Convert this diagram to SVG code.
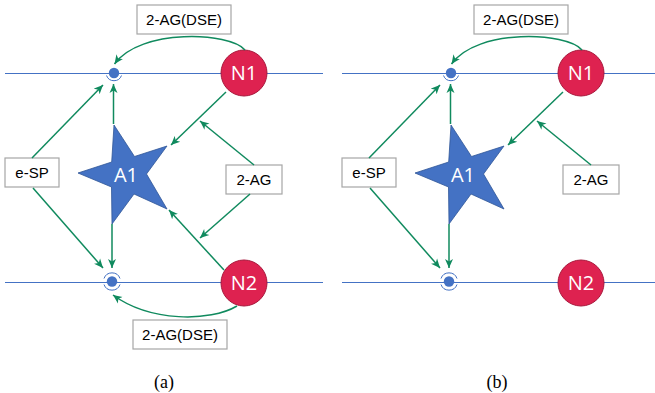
<svg xmlns="http://www.w3.org/2000/svg" width="655" height="393" viewBox="0 0 655 393">
<style>
.axon{stroke:#4472C4;stroke-width:1;fill:none}
.dot{fill:#4472C4}
.arc{stroke:#4472C4;stroke-width:1;fill:none}
.nc{fill:#DE2250;stroke:#A8183C;stroke-width:1}
.ntx{font-family:"Open Sans","Liberation Sans",sans-serif;font-size:20px;fill:#fff;text-anchor:middle}
.star{fill:#4472C4;stroke:#2F5597;stroke-width:0.8}
.box{fill:#fff;stroke:#A6A6A6;stroke-width:1.2}
.btx{font-family:"Liberation Sans",Arial,sans-serif;font-size:15px;fill:#000;text-anchor:middle}
.cap{font-family:"Liberation Serif","Times New Roman",serif;font-size:18px;fill:#000;text-anchor:middle}
.con{stroke:#108A5E;stroke-width:1.5;fill:none;marker-end:url(#ah)}
</style>
<defs>
<marker id="ah" markerUnits="userSpaceOnUse" markerWidth="10" markerHeight="10" viewBox="0 0 10 10" refX="9" refY="5" orient="auto">
<path d="M0,1 L9,5 L0,9 L2.5,5 Z" fill="#108A5E"/>
</marker>
<polygon id="starShape" points="114,125 134.5,156.5 167,146 146.5,174 167,209 134,194 112,224 111.5,187 78,173 111.7,162"/>
</defs>

<!-- Panel (a) -->
<g id="a-axons">
<line class="axon" x1="5" y1="73.5" x2="323" y2="73.5"/>
<line class="axon" x1="5" y1="282.5" x2="323" y2="282.5"/>
</g>
<g id="a-syn-top">
<circle class="dot" cx="114" cy="73" r="5.2"/>
<path class="arc" d="M106.5,75.5 A8,8 0 0 0 121.5,75.5"/>
</g>
<g id="a-syn-bottom">
<circle class="dot" cx="112" cy="281.5" r="5.2"/>
<path class="arc" d="M104,278.5 A8.5,8.5 0 0 1 120,278.5"/>
<path class="arc" d="M104,284.5 A8.5,8.5 0 0 0 120,284.5"/>
</g>
<g id="a-A1">
<use href="#starShape" class="star"/>
<text class="ntx" x="126" y="182">A1</text>
</g>
<g id="a-N1">
<circle class="nc" cx="244" cy="73" r="23"/>
<text class="ntx" x="244" y="80">N1</text>
</g>
<g id="a-N2">
<circle class="nc" cx="244" cy="283" r="23"/>
<text class="ntx" x="244" y="290">N2</text>
</g>
<g id="a-dse-top">
<rect class="box" x="137" y="5" width="94" height="29"/>
<text class="btx" x="184" y="25">2-AG(DSE)</text>
</g>
<g id="a-esp">
<rect class="box" x="5" y="158" width="54" height="29"/>
<text class="btx" x="32" y="178">e-SP</text>
</g>
<g id="a-2ag">
<rect class="box" x="226" y="165" width="56" height="29"/>
<text class="btx" x="254" y="185">2-AG</text>
</g>
<g id="a-dse-bottom">
<rect class="box" x="133" y="320" width="94" height="29"/>
<text class="btx" x="180" y="340">2-AG(DSE)</text>
</g>
<g id="a-connectors">
<path class="con" d="M245,50 C230,32 140,28 114.5,64"/>
<path class="con" d="M32,158 L103,85"/>
<path class="con" d="M113.5,124 L113.5,84"/>
<path class="con" d="M226,92 L171,145"/>
<path class="con" d="M254,165 L200,121"/>
<path class="con" d="M33,188 L103,268"/>
<path class="con" d="M112,224 L112,268"/>
<path class="con" d="M250,194 L200,238"/>
<path class="con" d="M224,270 L169,210"/>
<path class="con" d="M237,306 C210,322 150,322 113,295"/>
</g>
<text class="cap" x="164" y="388">(a)</text>

<!-- Panel (b) -->
<g id="b-axons">
<line class="axon" x1="342" y1="73.5" x2="655" y2="73.5"/>
<line class="axon" x1="342" y1="282.5" x2="655" y2="282.5"/>
</g>
<g id="b-syn-top">
<circle class="dot" cx="451" cy="73" r="5.2"/>
<path class="arc" d="M443.5,75.5 A8,8 0 0 0 458.5,75.5"/>
</g>
<g id="b-syn-bottom">
<circle class="dot" cx="449" cy="281.5" r="5.2"/>
<path class="arc" d="M441,278.5 A8.5,8.5 0 0 1 457,278.5"/>
<path class="arc" d="M441,284.5 A8.5,8.5 0 0 0 457,284.5"/>
</g>
<g id="b-A1" transform="translate(337,0)">
<use href="#starShape" class="star"/>
<text class="ntx" x="126" y="182">A1</text>
</g>
<g id="b-N1">
<circle class="nc" cx="581" cy="73" r="23"/>
<text class="ntx" x="581" y="80">N1</text>
</g>
<g id="b-N2">
<circle class="nc" cx="581" cy="283" r="23"/>
<text class="ntx" x="581" y="290">N2</text>
</g>
<g id="b-dse-top">
<rect class="box" x="474" y="5" width="94" height="29"/>
<text class="btx" x="521" y="25">2-AG(DSE)</text>
</g>
<g id="b-esp">
<rect class="box" x="342" y="158" width="54" height="29"/>
<text class="btx" x="369" y="178">e-SP</text>
</g>
<g id="b-2ag">
<rect class="box" x="563" y="165" width="56" height="29"/>
<text class="btx" x="591" y="185">2-AG</text>
</g>
<g id="b-connectors">
<path class="con" d="M582,50 C567,32 477,28 451.5,64"/>
<path class="con" d="M369,158 L440,85"/>
<path class="con" d="M450.5,124 L450.5,84"/>
<path class="con" d="M563,92 L508,145"/>
<path class="con" d="M591,165 L537,121"/>
<path class="con" d="M370,188 L440,268"/>
<path class="con" d="M449,224 L449,268"/>
</g>
<text class="cap" x="497" y="388">(b)</text>
</svg>
